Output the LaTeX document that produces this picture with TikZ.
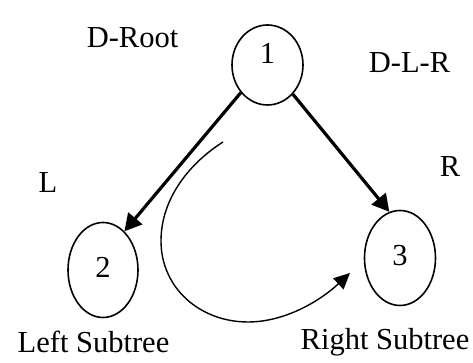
\documentclass[tikz,border=0pt]{standalone}
\usepackage{fontspec}
\setmainfont{Liberation Serif}
\usetikzlibrary{arrows.meta,shapes.geometric}
\begin{document}
\begin{tikzpicture}[x=0.5pt,y=0.5pt,
  every node/.style={font=\fontsize{15.25}{18}\selectfont},
  vert/.style={ellipse,draw,line width=0.8pt,inner sep=0pt,minimum width=35.5pt},
  edge/.style={line width=1.6pt,-{Triangle[length=8.5pt,width=9pt]}}]
  \useasboundingbox (0,0) rectangle (473,363);
  \node[vert,minimum height=40pt,text depth=12pt] (root) at (267.5,298) {1};
  \node[vert,minimum width=35pt,minimum height=47.5pt,text depth=3pt] (left) at (103,93) {2};
  \node[vert,minimum height=47.5pt,text depth=3pt] (right) at (400,105) {3};
  \draw[edge] (root.226) -- (left.61);
  \draw[edge] (root.311) -- (right.103);
  % order of the walk
  \coordinate (walkstart) at (223,221);
  \coordinate (walkend) at (350,90);
  \draw[line width=0.7pt,-{Triangle[length=8pt,width=7.5pt]}] (walkstart)
    .. controls (190,200) and (161,165) .. (161,122)
    .. controls (161,75) and (200,41) .. (248,41)
    .. controls (285,41) and (320,62) .. (walkend);
  \node (droot) at (132.5,325) {D-Root};
  \node (dlr) at (409.5,300.5) {D-L-R};
  \node (lname) at (48,180) {L};
  \node (rname) at (450,196) {R};
  \node (lsub) at (93.5,21) {Left Subtree};
  \node (rsub) at (385,21) {Right Subtree};
\end{tikzpicture}
\end{document}
